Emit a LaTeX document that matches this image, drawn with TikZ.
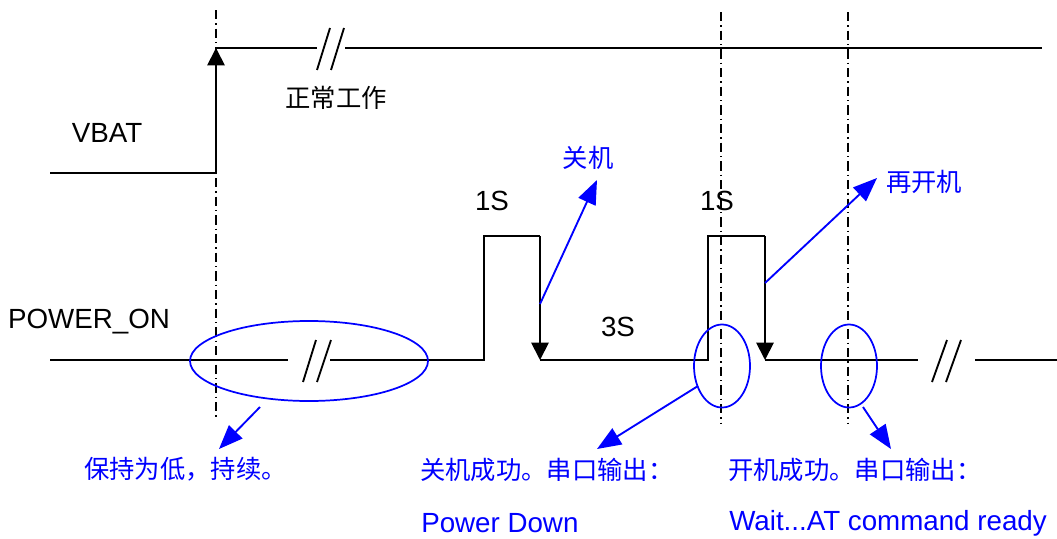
\documentclass[tikz,border=0pt]{standalone}
\usepackage{fontspec}
\setmainfont{Liberation Sans}
\newfontfamily\cjk{Noto Sans CJK SC}
\usetikzlibrary{arrows.meta,shapes.geometric}
\definecolor{myblue}{RGB}{0,0,255}
\tikzset{
  sig/.style={line width=1.4pt, line join=miter},
  guide/.style={line width=1.1pt, dash pattern=on 7pt off 3pt on 1pt off 3pt},
  bk/.style={line width=1.4pt},
  blk/.style={sig, -{Triangle[width=13pt,length=13pt]}},
  blink/.style={myblue, line width=1.4pt, -{Triangle[width=14pt,length=18pt]}},
  bell/.style={myblue, line width=1.3pt, draw, ellipse},
  lbl/.style={inner sep=0pt, font=\fontsize{20.8pt}{24pt}\selectfont},
  clbl/.style={inner sep=0pt, font=\cjk\fontsize{19pt}{22pt}\selectfont},
  blbl/.style={inner sep=0pt, text=myblue, font=\fontsize{20.8pt}{24pt}\selectfont},
  bclbl/.style={inner sep=0pt, text=myblue, font=\cjk\fontsize{19pt}{22pt}\selectfont},
}
\begin{document}
\begin{tikzpicture}[x=0.75pt, y=-0.75pt]
\useasboundingbox (0,0) rectangle (1057,539);
% guides
\coordinate (g1t) at (216,10); \coordinate (g1b) at (216,420);
\coordinate (g2t) at (721,12); \coordinate (g2b) at (721,424);
\coordinate (g3t) at (848,12); \coordinate (g3b) at (848,424);
\draw[guide] (g1t) -- (g1b);
\draw[guide] (g2t) -- (g2b);
\draw[guide] (g3t) -- (g3b);
% VBAT
\coordinate (v0) at (50,173);
\coordinate (v1) at (216,173);
\coordinate (v2) at (216,48);
\coordinate (v3) at (317,48);
\coordinate (v4) at (345,48);
\coordinate (v5) at (1042,48);
\draw[sig] (v0) -- (v1);
\draw[blk] (v1) -- (v2);
\draw[sig] (v2) -- (v3);
\draw[sig] (v4) -- (v5);
\draw[bk] (317,70) -- (330,28);
\draw[bk] (331,70) -- (344,28);
% POWER_ON
\coordinate (p0) at (50,360);
\coordinate (p1) at (288,360);
\coordinate (p2) at (330,360);
\coordinate (p3) at (484,360);
\coordinate (p4) at (484,236);
\coordinate (p5) at (540,236);
\coordinate (p6) at (540,360);
\coordinate (p7) at (708,360);
\coordinate (p8) at (708,236);
\coordinate (p9) at (765,236);
\coordinate (p10) at (765,360);
\coordinate (p11) at (918,360);
\coordinate (p12) at (975,360);
\coordinate (p13) at (1057,360);
\draw[sig] (p0) -- (p1);
\draw[sig] (p2) -- (p3) -- (p4) -- (p5);
\draw[blk] (p5) -- (p6);
\draw[sig] (p6) -- (p7) -- (p8) -- (p9);
\draw[blk] (p9) -- (p10);
\draw[sig] (p10) -- (p11);
\draw[sig] (p12) -- (p13);
\draw[bk] (303,382) -- (316,340);
\draw[bk] (317,382) -- (331,340);
\draw[bk] (932,382) -- (947,340);
\draw[bk] (946,382) -- (961,340);
% labels
\node[lbl] (vbat) at (107,133) {VBAT};
\node[lbl] (pwr) at (89,322) {POWER\_ON};
\node[clbl] (zc) at (336,98) {正常工作};
\node[lbl] (s1a) at (492,201) {1S};
\node[lbl] (s1b) at (717,201) {1S};
\node[lbl] (s3) at (618,327) {3S};
\node[bclbl] (gj) at (588,158) {关机};
\node[bclbl] (zkj) at (924,182) {再开机};
% ellipses
\node[bell, minimum width=238*0.75pt, minimum height=80*0.75pt, inner sep=0pt] (e1) at (309,361) {};
\node[bell, minimum width=56*0.75pt, minimum height=83*0.75pt, inner sep=0pt] (e2) at (722,366) {};
\node[bell, minimum width=56*0.75pt, minimum height=83*0.75pt, inner sep=0pt] (e3) at (849,366) {};
% bottom labels
\node[bclbl, anchor=west] (t1) at (84,469) {保持为低，持续。};
\node[bclbl, anchor=west] (t2) at (420,470) {关机成功。串口输出：};
\node[blbl, anchor=west] (t2b) at (421,523) {Power Down};
\node[bclbl, anchor=west] (t3) at (728,470) {开机成功。串口输出：};
\node[blbl, anchor=west] (t3b) at (729,523) {Wait...AT command ready};
% blue arrows
\coordinate (a1s) at (540,304);
\coordinate (a1e) at (597,180);
\draw[blink] (a1s) -- (a1e);
\coordinate (a2s) at (765,283);
\coordinate (a2e) at (877,178);
\draw[blink] (a2s) -- (a2e);
\coordinate (a3s) at (260,407);
\coordinate (a3e) at (219,449);
\draw[blink] (a3s) -- (a3e);
\coordinate (a4s) at (698,386);
\coordinate (a4e) at (597,449);
\draw[blink] (a4s) -- (a4e);
\coordinate (a5s) at (863,407);
\coordinate (a5e) at (891,449);
\draw[blink] (a5s) -- (a5e);
\end{tikzpicture}
\end{document}
